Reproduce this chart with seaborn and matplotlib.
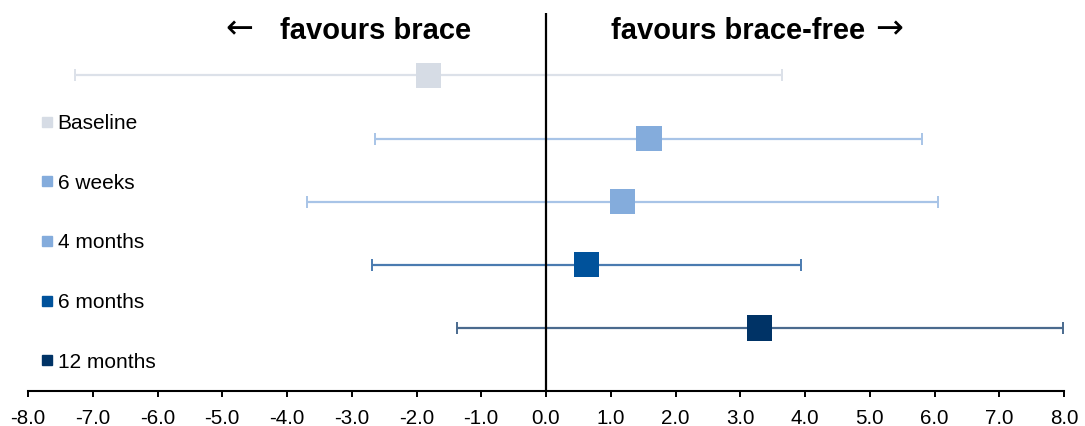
import matplotlib
matplotlib.use('Agg')
import matplotlib.pyplot as plt
from matplotlib.lines import Line2D
from matplotlib.ticker import FormatStrFormatter, MultipleLocator
import pandas as pd
import seaborn as sns

# values
timepoints = ['Baseline', '6 weeks', '4 months', '6 months', '12 months']
mean_diff = [-1.81, 1.59, 1.18, 0.63, 3.30]
ci_lower = [-7.28, -2.64, -3.69, -2.68, -1.38]
ci_upper = [3.65, 5.80, 6.05, 3.94, 7.99]

marker_colors = ['#D6DCE5', '#84ACDC', '#84ACDC', '#00529B', '#003366']
line_colors = ['#DCE1E9', '#A8C4E7', '#A8C4E7', '#4A7BB0', '#4A6A8E']

sns.set_style('white')
plt.rcParams['font.family'] = ['Liberation Sans', 'DejaVu Sans']
plt.rcParams['axes.unicode_minus'] = False
plt.rcParams['text.color'] = 'black'
plt.rcParams['xtick.color'] = 'black'

df = pd.DataFrame({'Timepoint': timepoints, 'Mean': mean_diff,
                   'Lower': ci_lower, 'Upper': ci_upper})

fig = plt.figure(figsize=(10.85, 4.26), dpi=100)
ax = fig.add_axes([28 / 1085, 1 - 391 / 426, 1036 / 1085, 378 / 426])

# confidence interval whiskers
for i, row in df.iterrows():
    ax.errorbar(row['Mean'], i,
                xerr=[[row['Mean'] - row['Lower']], [row['Upper'] - row['Mean']]],
                fmt='none', ecolor=line_colors[i], elinewidth=1.6,
                capsize=4.5, capthick=1.4, zorder=2)

ax.axvline(0, color='black', lw=1.6, zorder=2.5)

sns.scatterplot(data=df, x='Mean', y='Timepoint', hue='Timepoint',
                palette=marker_colors, marker='s', s=330, linewidth=0,
                legend=False, zorder=3, ax=ax)

ax.set_xlim(-8, 8)
ax.set_ylim(5.0, -0.99)
ax.xaxis.set_major_locator(MultipleLocator(1))
ax.xaxis.set_major_formatter(FormatStrFormatter('%.1f'))
ax.tick_params(axis='x', direction='out', length=4, width=1.4,
               labelsize=14.8, pad=9, bottom=True, color='black',
               labelcolor='black')
ax.set_yticks([])
ax.set_xlabel('')
ax.set_ylabel('')
for side in ['top', 'right', 'left']:
    ax.spines[side].set_visible(False)
ax.spines['bottom'].set_linewidth(1.5)
ax.spines['bottom'].set_color('black')

# direction labels
tr = ax.get_xaxis_transform()
ax.text(-4.73, 0.934, '\u2190', transform=tr, ha='center', va='baseline',
        fontsize=24, family=['DejaVu Sans'], color='black')
ax.text(-2.63, 0.931, 'favours brace', transform=tr, ha='center',
        va='baseline', fontsize=21, fontweight='bold', color='black')
ax.text(2.97, 0.931, 'favours brace-free', transform=tr, ha='center',
        va='baseline', fontsize=21, fontweight='bold', color='black')
ax.text(5.30, 0.934, '\u2192', transform=tr, ha='center', va='baseline',
        fontsize=24, family=['DejaVu Sans'], color='black')

handles = [Line2D([], [], marker='s', linestyle='', color=c, markersize=7.2)
           for c in marker_colors]
leg = fig.legend(handles, timepoints, loc='upper left',
                 bbox_to_anchor=(40 / 1085, 1 - 114 / 426), frameon=False,
                 fontsize=15, handlelength=0.65, handletextpad=0.2,
                 labelspacing=1.95, borderpad=0, borderaxespad=0)
for t in leg.get_texts():
    t.set_color('black')

fig.savefig('out.png', dpi=100)
